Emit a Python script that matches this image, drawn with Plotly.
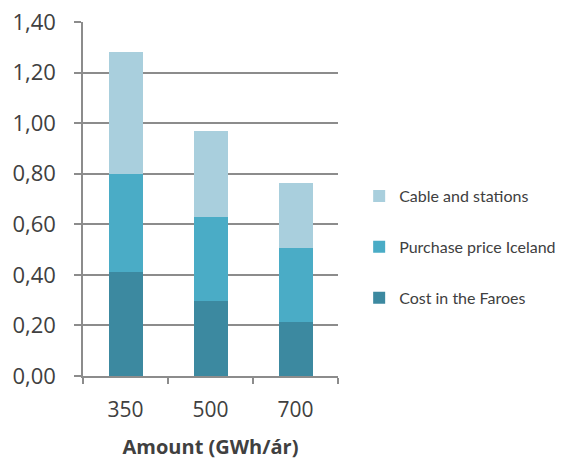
import plotly.graph_objects as go

categories = ["350", "500", "700"]
cost_faroes = [0.41, 0.295, 0.215]
purchase_iceland = [0.39, 0.333, 0.29]
cable_stations = [0.48, 0.342, 0.26]
y_ticks = [0, 0.2, 0.4, 0.6, 0.8, 1.0, 1.2, 1.4]
y_tick_labels = ["0,00", "0,20", "0,40", "0,60", "0,80", "1,00", "1,20", "1,40"]

series = [
    ("Cost in the Faroes", cost_faroes, "#3C89A0", 3),
    ("Purchase price Iceland", purchase_iceland, "#4AACC6", 2),
    ("Cable and stations", cable_stations, "#A9CFDD", 1),
]

fig = go.Figure()
for name, vals, col, rank in series:
    fig.add_trace(go.Bar(x=categories, y=vals, name=name, marker_color=col,
                         marker_line_width=0, legendgroup=name, legendrank=rank))

font_family = "Open Sans, sans-serif"
fig.update_layout(
    barmode="stack",
    bargap=0.6,
    width=563, height=461,
    margin=dict(l=83, r=225, t=22, b=85, autoexpand=False),
    plot_bgcolor="white", paper_bgcolor="white",
    font=dict(family=font_family, color="#404040"),
    legend=dict(x=1.083, xanchor="left", y=0.364, yanchor="middle",
                traceorder="grouped", tracegroupgap=27,
                font=dict(size=16, color="#404040", family="Lato, sans-serif"), itemwidth=30),
    xaxis=dict(showline=True, linecolor="#8c8c8c", linewidth=1.5,
               ticks="outside", tickson="boundaries", ticklen=6,
               tickcolor="#8c8c8c", tickwidth=1.5, ticklabelstandoff=14,
               tickfont=dict(size=21, color="#404040"),
               title=dict(text="<b>Amount (GWh/ár)</b>", font=dict(size=20, color="#404040"), standoff=18)),
    yaxis=dict(range=[0, 1.4], tickvals=y_ticks, ticktext=y_tick_labels,
               showgrid=True, gridcolor="#8c8c8c", gridwidth=1.5,
               showline=True, linecolor="#8c8c8c", linewidth=1.5,
               ticks="outside", ticklen=7, tickcolor="#8c8c8c", tickwidth=1.5,
               ticklabelstandoff=14,
               tickfont=dict(size=22, color="#404040"), zeroline=False),
)

fig.write_html("out.html")
